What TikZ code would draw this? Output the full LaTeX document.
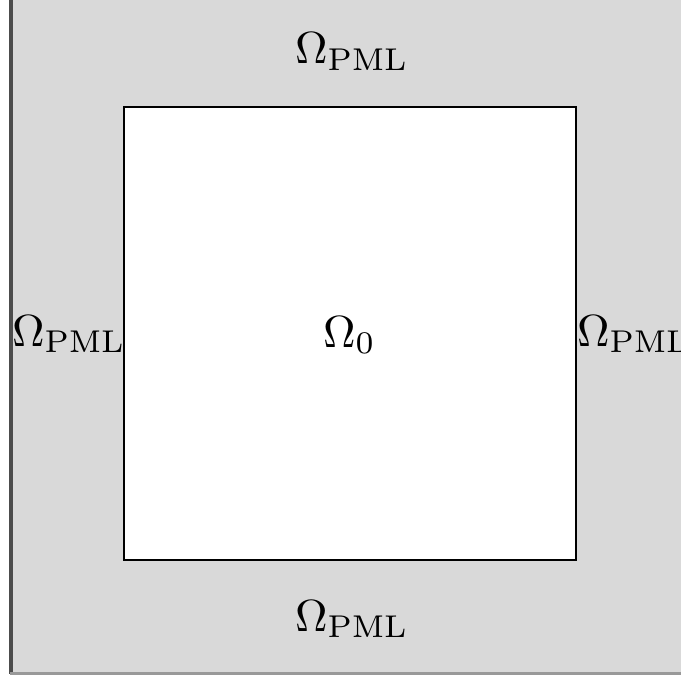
\documentclass[tikz,border=0pt]{standalone}
\begin{document}
\begin{tikzpicture}[x=1pt,y=-1pt,
  lbl/.style={inner sep=0pt,anchor=base west}]
\useasboundingbox (0,0) rectangle (681,677);
\fill[white] (0,0) rectangle (681,677);
\fill[gray!30] (11,0) rectangle (681,673);
\draw[line width=4pt,black!70] (10.5,0) -- (10.5,674);
\draw[line width=3pt,black!40] (10,673) -- (681,673);
\node[draw=black,line width=2pt,fill=white,minimum width=452pt,minimum height=453pt,inner sep=0pt] (inner) at (350,333.5) {};
\node[lbl] (c) at (323,347) {\scalebox{4.5}{$\Omega_0$}};
\node[lbl] (t) at (295,64) {\scalebox{4.5}{$\Omega_{\mathrm{PML}}$}};
\node[lbl] (b) at (295,631) {\scalebox{4.5}{$\Omega_{\mathrm{PML}}$}};
\node[lbl] (l) at (12,346) {\scalebox{4.5}{$\Omega_{\mathrm{PML}}$}};
\node[lbl] (r) at (577,346) {\scalebox{4.5}{$\Omega_{\mathrm{PML}}$}};
\end{tikzpicture}
\end{document}
